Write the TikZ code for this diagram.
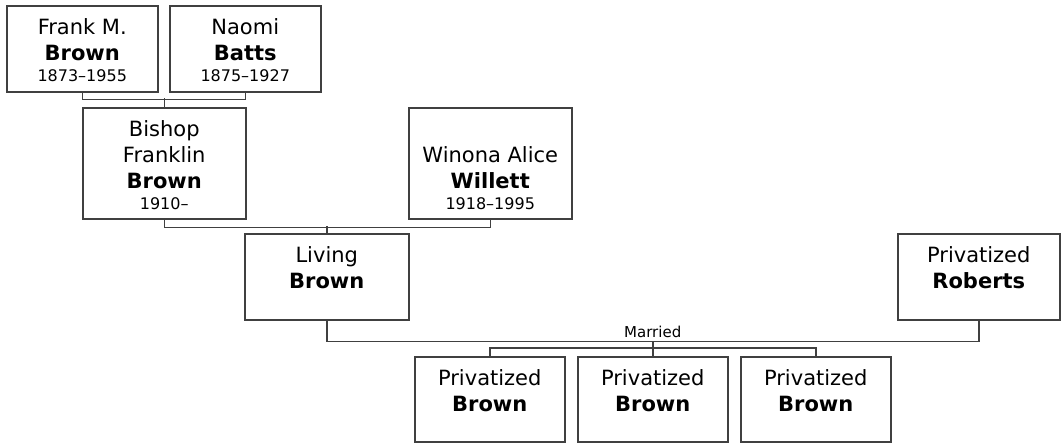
\documentclass[tikz,border=0pt]{standalone}
\usepackage{fontspec}
\setmainfont{DejaVu Sans}
\usepackage{xcolor}
\usepackage{tikz}
\definecolor{linegray}{gray}{0.25}
\newcommand{\who}[4][29pt]{\parbox[t][#3][t]{#2}{\centering\rule{0pt}{#1}#4}}
\newcommand{\yrs}[1]{\par\fontsize{16}{21}\selectfont #1}

\begin{document}
\begin{tikzpicture}[x=1pt,y=-1pt,
    person/.style={draw=linegray,line width=1.5pt,inner sep=0pt,anchor=north west,
      font=\fontsize{21}{26}\selectfont},
    link/.style={draw=linegray,line width=1.5pt}]
        \useasboundingbox (0,0) rectangle (1062,445);
        \node[person] (frank) at (6,5) {\who{151pt}{86pt}{Frank M.\\\textbf{Brown}\yrs{1873–1955}}};
        \node[person] (naomi) at (169,5) {\who{151pt}{86pt}{Naomi\\\textbf{Batts}\yrs{1875–1927}}};
        \node[person] (bishop) at (82,107) {\who{163pt}{111pt}{Bishop\\Franklin\\\textbf{Brown}\yrs{1910–}}};
        \node[person] (winona) at (408,107) {\who[55pt]{163pt}{111pt}{Winona Alice\\\textbf{Willett}\yrs{1918–1995}}};
        \node[person] (living) at (244,233) {\who{164pt}{86pt}{Living\\\textbf{Brown}}};
        \node[person] (roberts) at (897,233) {\who{162pt}{86pt}{Privatized\\\textbf{Roberts}}};
        \node[person] (kid1) at (414,356) {\who{150pt}{85pt}{Privatized\\\textbf{Brown}}};
        \node[person] (kid2) at (577,356) {\who{150pt}{85pt}{Privatized\\\textbf{Brown}}};
        \node[person] (kid3) at (740,356) {\who{150pt}{85pt}{Privatized\\\textbf{Brown}}};
        \draw[link] (frank.south) -- ++(0,7) -| (naomi.south);
        \draw[link] (bishop.north) -- ++(0,-9);
        \draw[link] (bishop.south) -- ++(0,8) -| (winona.south);
        \draw[link] (living.north) -- ++(0,-7);
        \draw[link] (living.south) -- ++(0,21) -| coordinate[pos=0.25] (wed)
          node[pos=0.25,above,font=\fontsize{15}{18}\selectfont] (married) {Married} (roberts.south);
        \draw[link] (kid1.north) -- ++(0,-8) -| (kid3.north);
        \draw[link] (wed) -- (wed |- kid2.north);
      \end{tikzpicture}
\end{document}
